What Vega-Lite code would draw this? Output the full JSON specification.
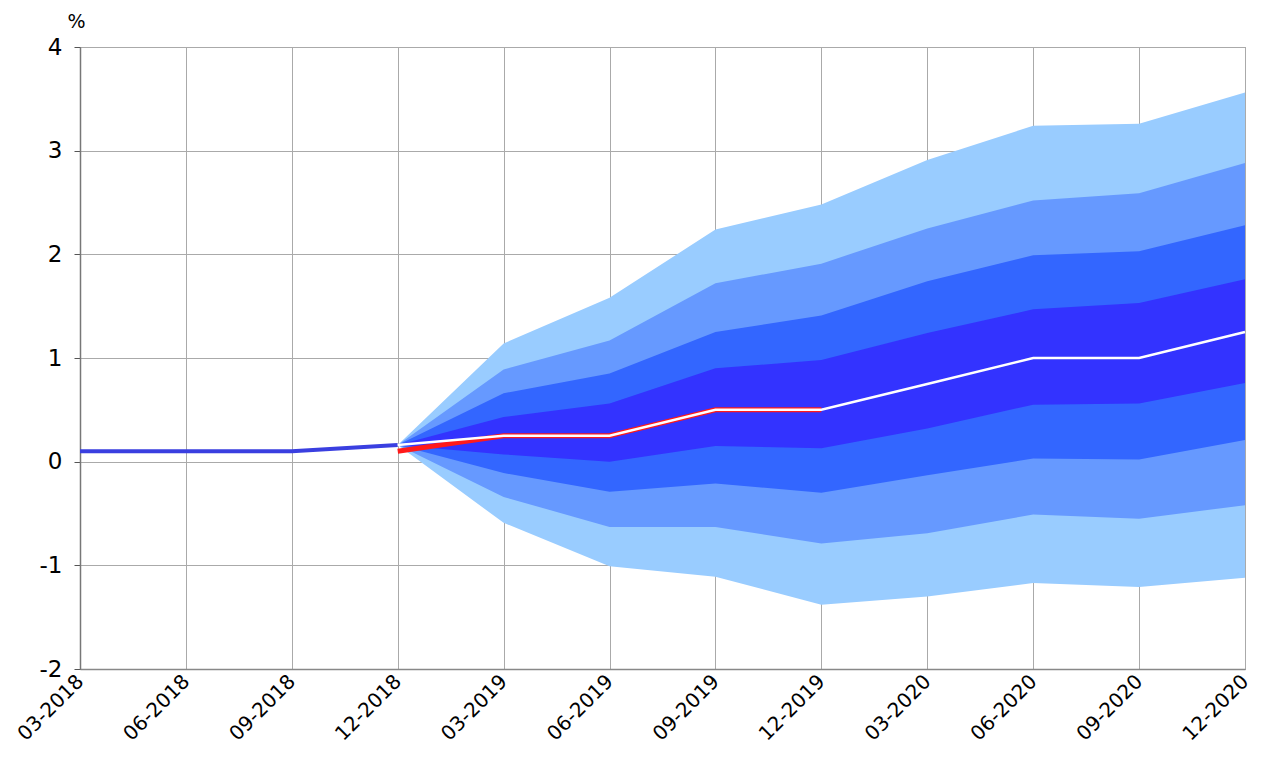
{
  "$schema": "https://vega.github.io/schema/vega-lite/v6.json",
  "autosize": "none",
  "width": 1165,
  "height": 622,
  "padding": {"left": 80, "top": 47, "right": 17, "bottom": 98},
  "background": "white",
  "config": {
    "view": {"stroke": "#888888", "strokeWidth": 1},
    "font": "DejaVu Sans",
    "axis": {"labelFont": "DejaVu Sans", "labelColor": "#000000", "titleFont": "DejaVu Sans", "titleColor": "#000000", "gridColor": "#aaaaaa", "gridWidth": 1, "domainColor": "#888888", "tickColor": "#555555"}
  },
  "datasets": {
    "fan": [
      {"q": "12-2018", "l4": 0.16, "l3": 0.16, "l2": 0.16, "l1": 0.16, "u1": 0.16, "u2": 0.16, "u3": 0.16, "u4": 0.16},
      {"q": "03-2019", "l4": -0.59, "l3": -0.34, "l2": -0.11, "l1": 0.07, "u1": 0.43, "u2": 0.66, "u3": 0.89, "u4": 1.14},
      {"q": "06-2019", "l4": -1.01, "l3": -0.63, "l2": -0.29, "l1": 0.0, "u1": 0.56, "u2": 0.85, "u3": 1.17, "u4": 1.58},
      {"q": "09-2019", "l4": -1.11, "l3": -0.63, "l2": -0.21, "l1": 0.15, "u1": 0.9, "u2": 1.25, "u3": 1.72, "u4": 2.24},
      {"q": "12-2019", "l4": -1.38, "l3": -0.79, "l2": -0.3, "l1": 0.13, "u1": 0.98, "u2": 1.41, "u3": 1.91, "u4": 2.48},
      {"q": "03-2020", "l4": -1.3, "l3": -0.69, "l2": -0.13, "l1": 0.32, "u1": 1.24, "u2": 1.74, "u3": 2.25, "u4": 2.91},
      {"q": "06-2020", "l4": -1.17, "l3": -0.51, "l2": 0.03, "l1": 0.55, "u1": 1.47, "u2": 1.99, "u3": 2.52, "u4": 3.24},
      {"q": "09-2020", "l4": -1.21, "l3": -0.55, "l2": 0.02, "l1": 0.56, "u1": 1.53, "u2": 2.03, "u3": 2.59, "u4": 3.26},
      {"q": "12-2020", "l4": -1.12, "l3": -0.42, "l2": 0.21, "l1": 0.76, "u1": 1.76, "u2": 2.28, "u3": 2.88, "u4": 3.56}
    ],
    "lines": [
      {"q": "03-2018", "series": "history", "v": 0.1},
      {"q": "06-2018", "series": "history", "v": 0.1},
      {"q": "09-2018", "series": "history", "v": 0.1},
      {"q": "12-2018", "series": "history", "v": 0.16},
      {"q": "12-2018", "series": "market", "v": 0.1},
      {"q": "03-2019", "series": "market", "v": 0.25},
      {"q": "06-2019", "series": "market", "v": 0.25},
      {"q": "09-2019", "series": "market", "v": 0.5},
      {"q": "12-2019", "series": "market", "v": 0.5},
      {"q": "12-2018", "series": "central", "v": 0.16},
      {"q": "03-2019", "series": "central", "v": 0.25},
      {"q": "06-2019", "series": "central", "v": 0.25},
      {"q": "09-2019", "series": "central", "v": 0.5},
      {"q": "12-2019", "series": "central", "v": 0.5},
      {"q": "03-2020", "series": "central", "v": 0.75},
      {"q": "06-2020", "series": "central", "v": 1.0},
      {"q": "09-2020", "series": "central", "v": 1.0},
      {"q": "12-2020", "series": "central", "v": 1.25}
    ]
  },
  "encoding": {
    "x": {
      "field": "q", "type": "ordinal",
      "scale": {"type": "point", "padding": 0, "domain": ["03-2018", "06-2018", "09-2018", "12-2018", "03-2019", "06-2019", "09-2019", "12-2019", "03-2020", "06-2020", "09-2020", "12-2020"]},
      "axis": {"title": null, "grid": true, "ticks": false, "labelAngle": -45, "labelAlign": "right", "labelBaseline": "middle", "labelFontSize": 20, "labelPadding": 9, "domainColor": "#888888", "domainWidth": 1.5}
    }
  },
  "layer": [
    {
      "data": {"name": "fan"},
      "mark": {"type": "area", "color": "#99ccff", "opacity": 1},
      "encoding": {
        "y": {"field": "l4", "type": "quantitative", "scale": {"domain": [-2, 4], "nice": false}, "axis": {"title": "%", "titleAngle": 0, "titleFontSize": 19, "titleFontWeight": "normal", "titleX": -4, "titleY": -26, "titleAlign": "center", "titleBaseline": "middle", "values": [-2, -1, 0, 1, 2, 3, 4], "labelExpr": "'' + datum.value", "grid": true, "labelFontSize": 23, "labelPadding": 12, "tickSize": 6, "domainColor": "#777777", "domainWidth": 1.5}},
        "y2": {"field": "u4"}
      }
    },
    {
      "data": {"name": "fan"},
      "mark": {"type": "area", "color": "#6699ff", "opacity": 1},
      "encoding": {"y": {"field": "l3", "type": "quantitative"}, "y2": {"field": "u3"}}
    },
    {
      "data": {"name": "fan"},
      "mark": {"type": "area", "color": "#3366ff", "opacity": 1},
      "encoding": {"y": {"field": "l2", "type": "quantitative"}, "y2": {"field": "u2"}}
    },
    {
      "data": {"name": "fan"},
      "mark": {"type": "area", "color": "#3333ff", "opacity": 1},
      "encoding": {"y": {"field": "l1", "type": "quantitative"}, "y2": {"field": "u1"}}
    },
    {
      "mark": {"type": "rule", "color": "#333333", "strokeWidth": 1.5},
      "encoding": {"y": {"datum": 0}}
    },
    {
      "data": {"name": "lines"},
      "transform": [{"filter": "datum.series == 'history'"}],
      "mark": {"type": "line", "color": "#3a3fe0", "strokeWidth": 4},
      "encoding": {"y": {"field": "v", "type": "quantitative"}}
    },
    {
      "data": {"name": "lines"},
      "transform": [{"filter": "datum.series == 'market'"}],
      "mark": {"type": "line", "color": "#ff1a1a", "strokeWidth": 5},
      "encoding": {"y": {"field": "v", "type": "quantitative"}}
    },
    {
      "data": {"name": "lines"},
      "transform": [{"filter": "datum.series == 'central'"}],
      "mark": {"type": "line", "color": "#ffffff", "strokeWidth": 2.5},
      "encoding": {"y": {"field": "v", "type": "quantitative"}}
    }
  ]
}
